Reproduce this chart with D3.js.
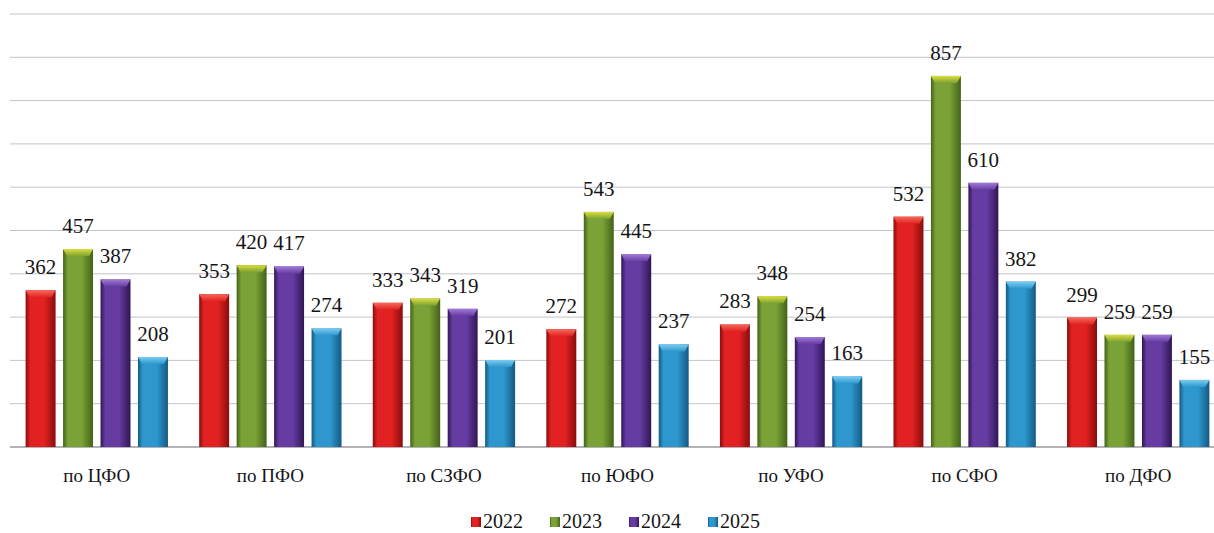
<!DOCTYPE html>
<html>
<head>
<meta charset="utf-8">
<script src="https://cdn.jsdelivr.net/npm/d3@7"></script>
<style>
  html, body { margin: 0; padding: 0; background: #ffffff; }
  svg { display: block; }
  svg text { font-family: "Liberation Serif", "DejaVu Serif", "Times New Roman", serif; }
</style>
</head>
<body>
<svg id="chart" width="1214" height="533"></svg>
<script>
// ---- data ----
const categories = ["по ЦФО", "по ПФО", "по СЗФО", "по ЮФО", "по УФО", "по СФО", "по ДФО"];
const seriesNames = ["2022", "2023", "2024", "2025"];
const values2022 = [362, 353, 333, 272, 283, 532, 299];
const values2023 = [457, 420, 343, 543, 348, 857, 259];
const values2024 = [387, 417, 319, 445, 254, 610, 259];
const values2025 = [208, 274, 201, 237, 163, 382, 155];
const yTicks = [0, 100, 200, 300, 400, 500, 600, 700, 800, 900, 1000];

const seriesValues = [values2022, values2023, values2024, values2025];
const palette = [
  { edge: "#8a0c0c", mid: "#e22222", top: "#f46a5a" },
  { edge: "#44621a", mid: "#7ba236", top: "#dede3a" },
  { edge: "#301656", mid: "#663ca2", top: "#a27ad8" },
  { edge: "#135a84", mid: "#2e98ce", top: "#7ccdf0" }
];

const svg = d3.select("#chart");
const defs = svg.append("defs");
palette.forEach((p, i) => {
  const g = defs.append("linearGradient").attr("id", "grad" + i)
    .attr("x1", "0%").attr("x2", "100%").attr("y1", "0%").attr("y2", "0%");
  g.append("stop").attr("offset", "0%").attr("stop-color", p.edge);
  g.append("stop").attr("offset", "16%").attr("stop-color", p.mid);
  g.append("stop").attr("offset", "62%").attr("stop-color", p.mid);
  g.append("stop").attr("offset", "100%").attr("stop-color", p.edge);
  const t = defs.append("linearGradient").attr("id", "top" + i)
    .attr("x1", "0%").attr("x2", "0%").attr("y1", "0%").attr("y2", "100%");
  t.append("stop").attr("offset", "0%").attr("stop-color", p.top);
  t.append("stop").attr("offset", "100%").attr("stop-color", p.mid);
});

const y = d3.scaleLinear().domain([0, 1000]).range([447, 14]);
const x0 = d3.scaleBand().domain(categories).range([10, 1225]).paddingInner(0.18).paddingOuter(0.09);
const x1 = d3.scaleBand().domain(seriesNames).range([0, x0.bandwidth()]).paddingInner(0.2).paddingOuter(0);

// gridlines
svg.append("g").selectAll("line").data(yTicks).join("line")
  .attr("x1", 10).attr("x2", 1214)
  .attr("y1", d => y(d)).attr("y2", d => y(d))
  .attr("stroke", d => d === 0 ? "#9a9aa0" : "#c4c4cc")
  .attr("stroke-width", d => d === 0 ? 1.4 : 1);

// bars
const groups = svg.append("g").selectAll("g").data(categories).join("g")
  .attr("transform", c => `translate(${x0(c)},0)`);

groups.each(function(c, ci) {
  const g = d3.select(this);
  seriesNames.forEach((s, si) => {
    const v = seriesValues[si][ci];
    const bx = x1(s), bw = x1.bandwidth();
    const by = y(v), bh = y(0) - y(v);
    g.append("rect").attr("x", bx).attr("y", by).attr("width", bw).attr("height", bh)
      .attr("fill", `url(#grad${si})`);
    g.append("path")
      .attr("d", `M${bx},${by} L${bx + bw},${by} L${bx + bw - 4},${by + 7} L${bx + 4},${by + 7} Z`)
      .attr("fill", `url(#top${si})`);
    g.append("text")
      .attr("x", bx + bw / 2).attr("y", by - 16)
      .attr("text-anchor", "middle")
      .attr("font-size", 21).attr("fill", "#151515")
      .text(v);
  });
});

// category labels
svg.append("g").selectAll("text").data(categories).join("text")
  .attr("x", c => x0(c) + x0.bandwidth() / 2)
  .attr("y", 482)
  .attr("text-anchor", "middle")
  .attr("font-size", 19).attr("fill", "#151515")
  .text(c => c);

// legend
const legendX = [471, 550, 629, 708];
const legend = svg.append("g").selectAll("g").data(seriesNames).join("g")
  .attr("transform", (d, i) => `translate(${legendX[i]},0)`);
legend.append("rect").attr("x", 0).attr("y", 517).attr("width", 10).attr("height", 10)
  .attr("fill", (d, i) => `url(#grad${i})`);
legend.append("text").attr("x", 12).attr("y", 528)
  .attr("font-size", 20).attr("fill", "#151515")
  .text(d => d);
</script>
</body>
</html>
